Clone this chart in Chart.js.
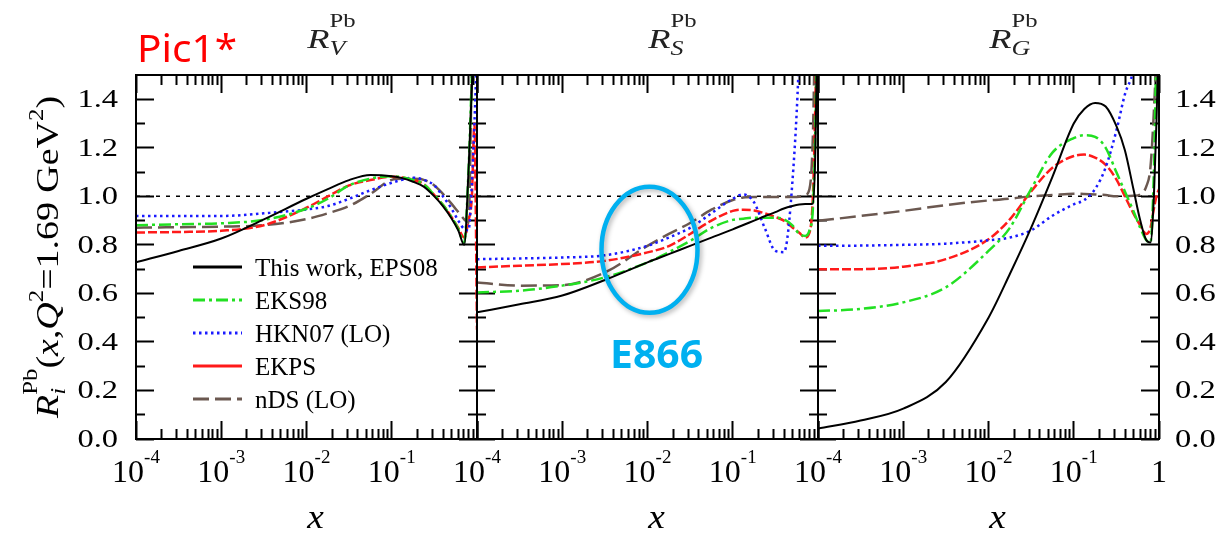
<!DOCTYPE html>
<html>
<head>
<meta charset="utf-8">
<script src="https://cdn.jsdelivr.net/npm/chart.js@4.4.1/dist/chart.umd.min.js"></script>
<style>
  html, body { margin: 0; padding: 0; background: #fff; }
  #wrap { position: relative; width: 1223px; height: 536px; }
</style>
</head>
<body>
<div id="wrap"><canvas id="chart"></canvas></div>
<script>
// x values the curves were read at (same grid in every panel)
const X = [1e-4, 3.16e-4, 1e-3, 3.16e-3, 0.01, 0.0178, 0.0316, 0.0562, 0.1, 0.133, 0.178,
           0.237, 0.316, 0.398, 0.501, 0.603, 0.708, 0.794, 0.871, 0.933, 1.0];

// R_V^Pb
const V_EPS08 = [0.728, 0.775, 0.826, 0.905, 0.99, 1.03, 1.067, 1.088, 1.083, 1.075, 1.06, 1.04, 1.0, 0.96, 0.91, 0.86, 0.80, 1.1, 1.45, 1.8, 2.0];
const V_EKS98 = [0.881, 0.885, 0.889, 0.903, 0.949, 0.99, 1.045, 1.073, 1.083, 1.078, 1.068, 1.05, 1.005, 0.965, 0.915, 0.865, 0.81, 1.1, 1.5, 1.8, 2.0];
const V_HKN07 = [0.919, 0.919, 0.919, 0.93, 0.946, 0.96, 0.99, 1.025, 1.056, 1.068, 1.077, 1.068, 1.045, 1.0, 0.95, 0.9, 0.865, 0.86, 1.05, 1.3, 1.6];
const V_EKPS  = [0.851, 0.853, 0.858, 0.881, 0.953, 1.0, 1.045, 1.067, 1.081, 1.078, 1.068, 1.05, 1.005, 0.965, 0.915, 0.87, 0.83, 0.9, 1.0, 1.3, 0.45];
const V_NDS   = [0.871, 0.873, 0.875, 0.881, 0.906, 0.93, 0.96, 1.01, 1.068, 1.072, 1.072, 1.068, 1.045, 1.01, 0.97, 0.935, 0.905, 0.89, 1.55, 2.0, 2.2];

// R_S^Pb
const S_EPS08 = [0.522, 0.555, 0.591, 0.655, 0.728, 0.762, 0.796, 0.83, 0.864, 0.882, 0.9, 0.918, 0.935, 0.95, 0.96, 0.966, 0.968, 0.968, 0.97, 1.2, 1.9];
const S_EKS98 = [0.604, 0.611, 0.632, 0.666, 0.728, 0.77, 0.816, 0.87, 0.903, 0.908, 0.912, 0.912, 0.912, 0.905, 0.88, 0.845, 0.837, 0.86, 0.95, 1.3, 2.0];
const S_HKN07 = [0.741, 0.744, 0.748, 0.757, 0.796, 0.83, 0.87, 0.93, 0.99, 1.008, 0.975, 0.87, 0.775, 0.77, 1.06, 1.6, 2.5, 2.8, 3.0, 3.0, 3.0];
const S_EKPS  = [0.707, 0.714, 0.721, 0.734, 0.769, 0.795, 0.845, 0.9, 0.94, 0.945, 0.942, 0.93, 0.915, 0.9, 0.872, 0.85, 0.83, 0.85, 1.0, 1.4, 2.0];
const S_NDS   = [0.645, 0.632, 0.634, 0.686, 0.796, 0.845, 0.89, 0.945, 0.985, 0.995, 0.997, 0.997, 0.997, 0.997, 0.997, 0.998, 1.005, 1.03, 1.25, 1.8, 2.2];

// R_G^Pb
const G_EPS08 = [0.043, 0.076, 0.125, 0.235, 0.5, 0.68, 0.87, 1.08, 1.30, 1.36, 1.385, 1.37, 1.29, 1.19, 1.03, 0.9, 0.82, 0.81, 1.0, 1.3, 1.7];
const G_EKS98 = [0.527, 0.536, 0.563, 0.625, 0.775, 0.87, 1.03, 1.18, 1.24, 1.252, 1.245, 1.2, 1.1, 1.02, 0.94, 0.87, 0.82, 0.81, 1.1, 1.6, 2.0];
const G_HKN07 = [0.796, 0.797, 0.80, 0.805, 0.819, 0.83, 0.86, 0.92, 0.967, 0.985, 1.03, 1.12, 1.27, 1.42, 1.52, 1.7, 1.85, 2.0, 2.0, 2.0, 2.0];
const G_EKPS  = [0.70, 0.70, 0.71, 0.741, 0.823, 0.905, 1.02, 1.118, 1.166, 1.172, 1.16, 1.13, 1.07, 1.0, 0.93, 0.88, 0.845, 0.87, 0.95, 1.0, 1.03];
const G_NDS   = [0.899, 0.919, 0.94, 0.964, 0.983, 0.99, 1.0, 1.005, 1.011, 1.01, 1.008, 1.005, 1.0, 1.0, 1.002, 1.008, 1.04, 1.12, 1.35, 1.6, 2.0];

const SERIES = ['This work, EPS08', 'EKS98', 'HKN07 (LO)', 'EKPS', 'nDS (LO)'];
const PANELS = ['V', 'S', 'G'];
const X_EXPONENTS = [-4, -3, -2, -1];
const Y_LABELS = ['0.0', '0.2', '0.4', '0.6', '0.8', '1.0', '1.2', '1.4'];
const REF_LEVEL = 1.0;

// tick positions
const X_MAJOR = [1e-4, 1e-3, 1e-2, 1e-1, 1];
const X_MINOR = [];
for (let d = -4; d < 0; d++) {
    for (let j = 2; j <= 9; j++) X_MINOR.push(j * Math.pow(10, d));
}
const Y_MAJOR = [0, 0.2, 0.4, 0.6, 0.8, 1.0, 1.2, 1.4];
const Y_MINOR = [0.1, 0.3, 0.5, 0.7, 0.9, 1.1, 1.3];

const PANEL_DATA = [
    [V_EPS08, V_EKS98, V_HKN07, V_EKPS, V_NDS],
    [S_EPS08, S_EKS98, S_HKN07, S_EKPS, S_NDS],
    [G_EPS08, G_EKS98, G_HKN07, G_EKPS, G_NDS]
];

const STYLES = [
    { color: '#000000', width: 2,   dash: [] },
    { color: '#22e022', width: 2.5, dash: [12, 4, 3, 4] },
    { color: '#1a1aff', width: 2.5, dash: [2.5, 3.5] },
    { color: '#ff1a1a', width: 2.5, dash: [9, 3] },
    { color: '#6b5850', width: 2.5, dash: [16, 6] }
];
const LEGEND_DASH = [[], [12, 4, 3, 4], [2.5, 3.5], [], [16, 6]];

const SERIF = '"Liberation Serif", "Times New Roman", serif';
const SANS = '"Noto Sans", "Liberation Sans", sans-serif';

// build datasets
const datasets = [];
PANEL_DATA.forEach((curves, p) => {
    curves.forEach((vals, i) => {
        datasets.push({
            label: SERIES[i],
            data: X.map((x, k) => ({ x: x, y: vals[k] })),
            xAxisID: 'x' + (p + 1),
            yAxisID: 'y',
            borderColor: STYLES[i].color,
            borderWidth: STYLES[i].width,
            borderDash: STYLES[i].dash,
            pointRadius: 0,
            fill: false,
            cubicInterpolationMode: 'monotone',
            order: i
        });
    });
    // dotted line at R = 1
    datasets.push({
        label: 'ref',
        data: [{ x: X[0], y: REF_LEVEL }, { x: X[X.length - 1], y: REF_LEVEL }],
        xAxisID: 'x' + (p + 1),
        yAxisID: 'y',
        borderColor: '#000',
        borderWidth: 1.5,
        borderDash: [4, 6],
        pointRadius: 0,
        order: 10
    });
});

function measureRuns(ctx, parts) {
    let pos = 0, prevStart = 0, total = 0;
    const starts = parts.map(p => {
        ctx.font = p.font;
        const w = ctx.measureText(p.t).width;
        const start = p.over ? prevStart : pos;
        prevStart = start;
        pos = Math.max(pos, start + w);
        total = Math.max(total, pos);
        return start;
    });
    return { total: total, starts: starts };
}

// draw text made of several runs (sub/superscripts); sx = horizontal stretch,
// or pass fit = wanted width in px
function drawRuns(ctx, parts, x, y, align, sx, fit) {
    const m = measureRuns(ctx, parts);
    if (fit) sx = fit / m.total;
    let off = 0;
    if (align === 'center') off = -m.total * sx / 2;
    if (align === 'right') off = -m.total * sx;
    ctx.save();
    ctx.translate(x + off, y);
    ctx.scale(sx, 1);
    ctx.textAlign = 'left';
    ctx.textBaseline = 'alphabetic';
    parts.forEach((p, i) => {
        ctx.font = p.font;
        ctx.fillText(p.t, m.starts[i], p.dy || 0);
    });
    ctx.restore();
}

const decor = {
    id: 'decor',
    afterDatasetsDraw(chart) {
        const ctx = chart.ctx;
        const a = chart.chartArea;
        const ys = chart.scales.y;
        const xs = [chart.scales.x1, chart.scales.x2, chart.scales.x3];
        ctx.save();
        ctx.fillStyle = '#000';
        ctx.setLineDash([]);

        // frame and panel separators
        ctx.fillRect(a.left - 1, a.top - 1, a.right - a.left + 2, 2);
        ctx.fillRect(a.left - 1, a.bottom - 1, a.right - a.left + 2, 2);
        xs.forEach(s => {
            ctx.fillRect(s.left - 1, a.top - 1, 2, a.bottom - a.top + 2);
        });
        ctx.fillRect(a.right - 1, a.top - 1, 2, a.bottom - a.top + 2);

        // y tick labels, both sides
        Y_LABELS.forEach(lab => {
            const py = ys.getPixelForValue(parseFloat(lab)) + 8;
            drawRuns(ctx, [{ t: lab, font: '25px ' + SERIF }], 118, py, 'right', 1.3);
            drawRuns(ctx, [{ t: lab, font: '25px ' + SERIF }], 1175, py, 'left', 1.3);
        });

        // x tick labels
        xs.forEach(s => {
            X_EXPONENTS.forEach(e => {
                const px = s.getPixelForValue(Math.pow(10, e));
                drawRuns(ctx, [
                    { t: '10', font: '32px ' + SERIF },
                    { t: String(e), font: '19px ' + SERIF, dy: -19 }
                ], px, 482, 'center', 1);
            });
            // axis title
            drawRuns(ctx, [{ t: 'x', font: 'italic 34px ' + SERIF }], (s.left + s.right) / 2 + 9, 528, 'center', 1.1);
        });
        drawRuns(ctx, [{ t: '1', font: '32px ' + SERIF }], xs[2].right, 482, 'center', 1);

        // panel titles
        ctx.fillStyle = '#222';
        xs.forEach((s, p) => {
            drawRuns(ctx, [
                { t: 'R', font: 'italic 28px ' + SERIF },
                { t: PANELS[p], font: 'italic 20px ' + SERIF, dy: 7 },
                { t: 'Pb', font: '19px ' + SERIF, dy: -21, over: true }
            ], (s.left + s.right) / 2 + 25, 48, 'center', 1.3);
        });
        ctx.fillStyle = '#000';

        // y axis title (rotated)
        ctx.save();
        ctx.translate(58, 257);
        ctx.rotate(-Math.PI / 2);
        const it = 'italic 32px ' + SERIF, rm = '32px ' + SERIF, sm = '21px ' + SERIF;
        drawRuns(ctx, [
            { t: 'R', font: it },
            { t: 'i', font: 'italic 21px ' + SERIF, dy: 7 },
            { t: 'Pb', font: sm, dy: -21, over: true },
            { t: '(', font: rm },
            { t: 'x', font: it },
            { t: ',', font: rm },
            { t: 'Q', font: it },
            { t: '2', font: sm, dy: -15 },
            { t: '=1.69 GeV', font: rm },
            { t: '2', font: sm, dy: -15 },
            { t: ')', font: rm }
        ], 0, 0, 'center', 1, 322);
        ctx.restore();

        // legend inside the first panel
        const rowsY = [267, 300, 333, 366, 399];
        SERIES.forEach((name, i) => {
            ctx.save();
            ctx.strokeStyle = STYLES[i].color;
            ctx.lineWidth = 3;
            ctx.setLineDash(LEGEND_DASH[i]);
            ctx.beginPath();
            ctx.moveTo(193, rowsY[i]);
            ctx.lineTo(242, rowsY[i]);
            ctx.stroke();
            ctx.restore();
            drawRuns(ctx, [{ t: name, font: '25px ' + SERIF }], 255, rowsY[i] + 9, 'left', 1.0);
        });

        // "Pic1*" tag
        ctx.fillStyle = '#ff0000';
        drawRuns(ctx, [{ t: 'Pic1*', font: '38px ' + SANS }], 137, 62, 'left', 1, 100);

        // E866 annotation around x ~ 1e-2 in the sea panel
        const cx = xs[1].getPixelForValue(0.01) + 2;
        const cy = ys.getPixelForValue(0.78);
        ctx.save();
        ctx.strokeStyle = '#00b0f0';
        ctx.lineWidth = 4.5;
        ctx.shadowColor = 'rgba(0,0,0,0.3)';
        ctx.shadowBlur = 5;
        ctx.shadowOffsetX = 2;
        ctx.shadowOffsetY = 2;
        ctx.beginPath();
        ctx.ellipse(cx, cy, 48, 63, 0, 0, Math.PI * 2);
        ctx.stroke();
        ctx.restore();
        ctx.fillStyle = '#00b0f0';
        drawRuns(ctx, [{ t: 'E866', font: 'bold 40px ' + SANS }], cx + 7, cy + 118, 'center', 1, 93);

        ctx.restore();
    }
};

// the library's own tick marks, pointing into the plot (negative length)
const tickGrid = len => ({
    display: true,
    drawOnChartArea: false,
    drawTicks: true,
    tickLength: len,
    tickWidth: 2,
    tickColor: '#000',
    color: 'rgba(0,0,0,0)'
});
const setTicks = values => s => { s.ticks = values.map(v => ({ value: v })); };

const logAxis = (pos, stack, weight, height, len, values) => ({
    type: 'logarithmic',
    axis: 'x',
    position: pos,
    stack: stack,
    stackWeight: 1,
    weight: weight,
    min: 1e-4,
    max: 1,
    grid: tickGrid(len),
    border: { display: false },
    ticks: { display: false },
    afterBuildTicks: setTicks(values),
    afterFit: s => { s.height = height; }
});

const linAxis = (pos, weight, width, len, values) => ({
    type: 'linear',
    axis: 'y',
    position: pos,
    weight: weight,
    min: 0,
    max: 1.5,
    grid: tickGrid(len),
    border: { display: false },
    ticks: { display: false },
    afterBuildTicks: setTicks(values),
    afterFit: s => { s.width = width; }
});

const scales = {};
['1', '2', '3'].forEach(n => {
    scales['x' + n] = logAxis('bottom', 'panels', 1, 97, -18, X_MAJOR);
});
['1', '2', '3'].forEach(n => {
    scales['xb' + n] = logAxis('bottom', 'botMinor', 0, 0, -10, X_MINOR);
    scales['xt' + n] = logAxis('top', 'topMajor', 0, 0, -18, X_MAJOR);
    scales['xtm' + n] = logAxis('top', 'topMinor', 0, 0, -10, X_MINOR);
});
scales.y = linAxis('left', 1, 136, -18, Y_MAJOR);
scales.yLm = linAxis('left', 0, 0, -9, Y_MINOR);
scales.y2 = linAxis('right', 1, 64, -18, Y_MAJOR);
scales.yRm = linAxis('right', 0, 0, -9, Y_MINOR);
// tick marks on both sides of the two inner panel borders
['x2', 'x3'].forEach(id => {
    [[-18, Y_MAJOR], [-9, Y_MINOR], [18, Y_MAJOR], [9, Y_MINOR]].forEach((t, k) => {
        scales['ysep' + id + k] = linAxis({ [id]: 1e-4 }, 0, 0, t[0], t[1]);
    });
});

new Chart(document.getElementById('chart'), {
    type: 'line',
    data: { datasets: datasets },
    options: {
        responsive: true,
        maintainAspectRatio: false,
        animation: false,
        events: [],
        layout: { padding: { top: 75, left: 0, right: 0, bottom: 0 } },
        plugins: { legend: { display: false }, tooltip: { enabled: false } },
        scales: scales
    },
    plugins: [decor]
});
</script>
</body>
</html>
